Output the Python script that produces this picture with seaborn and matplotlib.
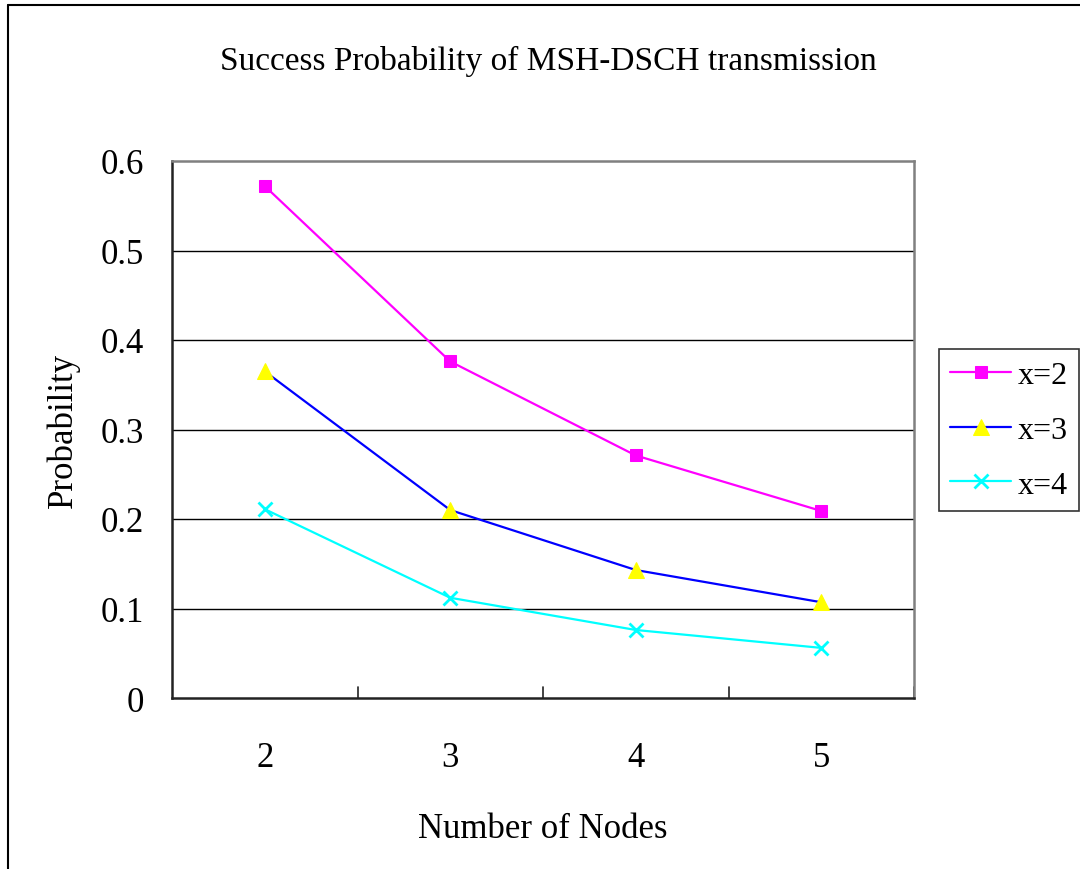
import matplotlib
matplotlib.use("Agg")
import matplotlib.pyplot as plt
from matplotlib.lines import Line2D
import seaborn as sns
import pandas as pd

categories = ["2", "3", "4", "5"]
series_names = ["x=2", "x=3", "x=4"]
vals_x2 = [0.572, 0.376, 0.271, 0.209]
vals_x3 = [0.365, 0.210, 0.143, 0.107]
vals_x4 = [0.211, 0.112, 0.076, 0.056]
y_ticks = [0, 0.1, 0.2, 0.3, 0.4, 0.5, 0.6]
y_tick_labels = ["0", "0.1", "0.2", "0.3", "0.4", "0.5", "0.6"]

sns.set_theme(style="white")
plt.rcParams['font.family'] = ['Liberation Serif', 'DejaVu Serif']
plt.rcParams['text.color'] = 'black'
plt.rcParams['axes.labelcolor'] = 'black'
plt.rcParams['xtick.color'] = 'black'
plt.rcParams['ytick.color'] = 'black'

fig = plt.figure(figsize=(10.8, 8.7), dpi=100)
ax = fig.add_axes([172/1080, 1-699/870, (914-172)/1080, (699-162)/870])

styles = [
    dict(color="#FF00FF", marker="s", markersize=9, markerfacecolor="#FF00FF", markeredgecolor="#FF00FF"),
    dict(color="#0000FF", marker="^", markersize=11, markerfacecolor="#FFFF00", markeredgecolor="#FFFF00"),
    dict(color="#00FFFF", marker="x", markersize=10, markeredgewidth=2, markeredgecolor="#00FFFF"),
]
for name, vals, st in zip(series_names, [vals_x2, vals_x3, vals_x4], styles):
    df = pd.DataFrame({"pos": range(len(categories)), "val": vals})
    sns.lineplot(data=df, x="pos", y="val", ax=ax, label=name, linewidth=1.6, **st)

ax.set_xlim(-0.5, len(categories) - 0.5)
ax.set_ylim(0, 0.6)
for yv in y_ticks[1:-1]:
    ax.axhline(yv, color="black", linewidth=1.0, zorder=0)
ax.axhline(0.6, color="#808080", linewidth=1.5, zorder=0)

ax.set_yticks(y_ticks)
ax.set_yticklabels(y_tick_labels, fontsize=25)
ax.set_xticks(range(len(categories)))
ax.set_xticklabels(categories, fontsize=25)
ax.tick_params(axis="x", length=0, pad=31)
ax.tick_params(axis="y", length=0, pad=20)
# category boundary ticks (inward)
for b in [0.5, 1.5, 2.5, 3.5]:
    ax.plot([b, b], [0, 0.012], color="#222222", linewidth=1.2, clip_on=False)

ax.set_xlabel("Number of Nodes", fontsize=25, labelpad=27)
ax.set_ylabel("Probability", fontsize=25, labelpad=15)

for s in ["left", "bottom"]:
    ax.spines[s].set_color("#222222")
    ax.spines[s].set_linewidth(1.8)
for s in ["top", "right"]:
    ax.spines[s].set_color("#808080")
    ax.spines[s].set_linewidth(1.8)

fig.text(548/1080, 1-61/870, "Success Probability of MSH-DSCH transmission",
         ha="center", va="center", fontsize=24)

leg = ax.legend(loc="center left", bbox_to_anchor=(939/1080, 1-431/870),
                bbox_transform=fig.transFigure, fontsize=23, frameon=True,
                fancybox=False, edgecolor="black", handlelength=1.9,
                labelspacing=0.8, borderpad=0.35, handletextpad=0.2,
                borderaxespad=0)
leg.get_frame().set_linewidth(1.2)

fig.add_artist(Line2D([8/1080, 1], [1-6/870, 1-6/870], color="black", linewidth=1.5, transform=fig.transFigure))
fig.add_artist(Line2D([8/1080, 8/1080], [0, 1-6/870], color="black", linewidth=1.5, transform=fig.transFigure))

fig.savefig("out.png", dpi=100)
